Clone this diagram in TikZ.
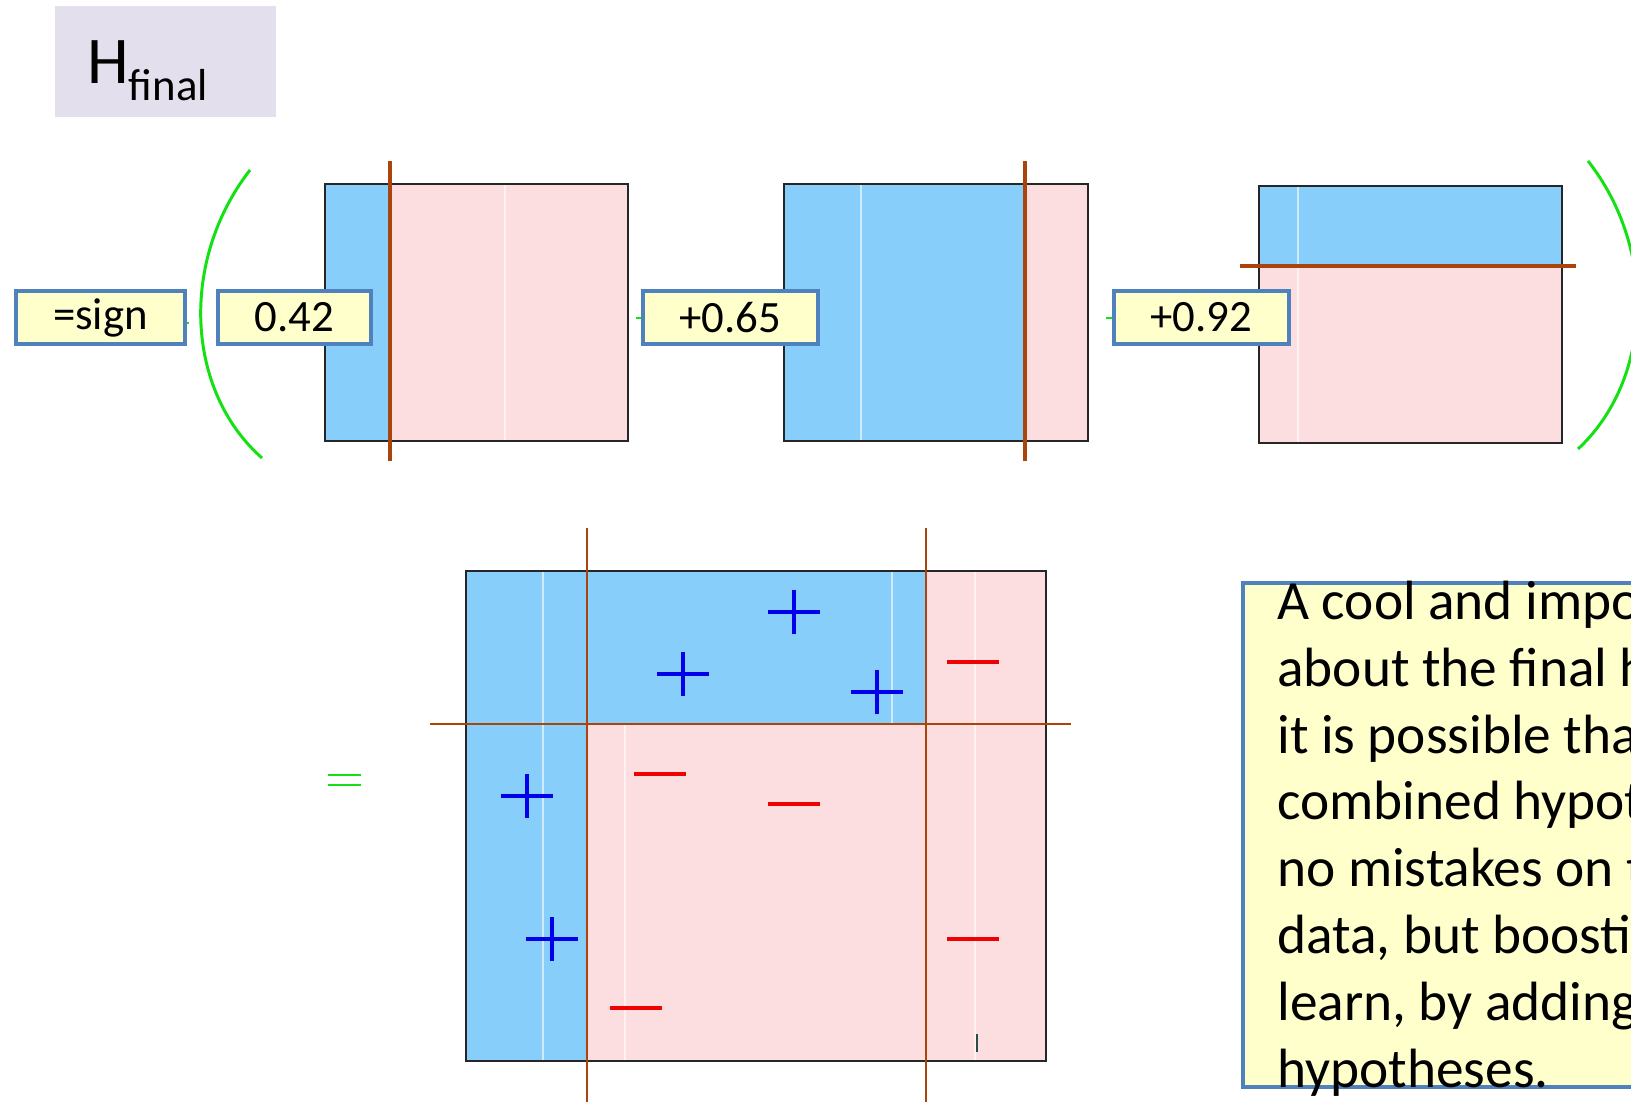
\documentclass[tikz,border=0pt]{standalone}
\usepackage{fontspec}
\setmainfont{Carlito}
\usetikzlibrary{positioning}

\definecolor{posblue}{RGB}{135,206,250}
\definecolor{negpink}{RGB}{253,222,224}
\definecolor{stumpbrown}{RGB}{168,68,12}
\definecolor{parengreen}{RGB}{20,225,20}
\definecolor{boxblue}{RGB}{79,129,189}
\definecolor{boxyellow}{RGB}{255,255,204}
\definecolor{titlelilac}{RGB}{228,223,236}
\definecolor{plusblue}{RGB}{0,0,235}
\definecolor{minusred}{RGB}{240,0,0}

\begin{document}
\begin{tikzpicture}[
    % GLOBAL CFG: one unit is one pixel of the slide
    x=0.02cm, y=-0.02cm,
    % Styles
    weight/.style={% For the alpha boxes
        rectangle,
        draw=boxblue,
        fill=boxyellow,
        line width=2.2pt,
        minimum height=1.06cm,
        inner sep=0pt,
        font=\fontsize{25.5}{30}\selectfont,
        },
    areaframe/.style={% Outline of a decision area
        draw=black!85,
        line width=1.1pt,
        },
    stump/.style={% Thick split of a weak learner
        draw=stumpbrown,
        line width=2.3pt,
        },
    thinstump/.style={% Thin split in the combined area
        draw=stumpbrown,
        line width=1.1pt,
        },
    gridline/.style={% Faint white gridlines
        draw=white,
        opacity=0.6,
        line width=0.8pt,
        },
    paren/.style={% Big brackets round the sum
        draw=parengreen,
        line width=1.7pt,
        },
    plusmark/.style={% + examples
        draw=plusblue,
        line width=2.3pt,
        },
    minusmark/.style={% - examples
        draw=minusred,
        line width=2.3pt,
        },
    ]

    \clip (0,0) rectangle (1631,1102);

    % Title
    \fill [titlelilac] (55,6) rectangle (276,117);
    \node [anchor=base west, inner sep=0pt, font=\fontsize{38}{40}\selectfont] (title) at (87,83)
        {H\raisebox{-10pt}{\fontsize{25.5}{30}\selectfont final}};

    % First weak learner: vertical split
    \fill [posblue] (325,184) rectangle (390,441);
    \fill [negpink] (390,184) rectangle (628,441);
    \draw [gridline] (505,184) -- (505,441);
    \draw [areaframe] (325,184) rectangle (628,441);
    \draw [stump] (390,161) -- (390,461);

    % Second weak learner: vertical split
    \fill [posblue] (784,184) rectangle (1025,441);
    \fill [negpink] (1025,184) rectangle (1088,441);
    \draw [gridline] (861,184) -- (861,441);
    \draw [areaframe] (784,184) rectangle (1088,441);
    \draw [stump] (1025,161) -- (1025,461);

    % Third weak learner: horizontal split
    \fill [posblue] (1259,186) rectangle (1562,266);
    \fill [negpink] (1259,266) rectangle (1562,443);
    \draw [gridline] (1298,186) -- (1298,443);
    \draw [areaframe] (1259,186) rectangle (1562,443);
    \draw [stump] (1240,266) -- (1576,266);

    % Brackets
    \draw [paren] (250,170) .. controls (180,260) and (185,390) .. (262,458);
    \draw [paren] (1588,161) .. controls (1658,250) and (1652,380) .. (1578,449);

    % bits of green poking out behind the boxes
    \draw [parengreen, line width=1pt] (181,323) -- (189,323);
    \draw [parengreen, line width=1pt] (636,318) -- (645,318);
    \draw [parengreen, line width=1pt] (1106,318) -- (1116,318);

    % Weights
    \node [weight, minimum width=3.38cm] (sign) at (100.5,317.5) {\raisebox{-2pt}{=sign}};
    \node [weight, minimum width=3.06cm] (alpha_one) at (294.5,317.5) {\raisebox{-2pt}{0.42}};
    \node [weight, minimum width=3.5cm] (alpha_two) at (730.5,317.5) {\raisebox{-2pt}{+0.65}};
    \node [weight, minimum width=3.5cm] (alpha_three) at (1201.5,317.5) {\raisebox{-2pt}{+0.92}};

    % Combined classifier
    \draw [parengreen, line width=1.2pt] (328,775) -- (361,775) (328,785) -- (361,785);

    \fill [negpink] (466,571) rectangle (1046,1061);
    \fill [posblue] (466,571) rectangle (587,1061);
    \fill [posblue] (587,571) rectangle (926,724);
    \draw [gridline] (543,571) -- (543,1061);
    \draw [gridline] (625,724) -- (625,1061);
    \draw [gridline] (892,571) -- (892,724);
    \draw [gridline] (975,571) -- (975,1061);
    \draw [areaframe] (466,571) rectangle (1046,1061);
    \draw [thinstump] (587,528) -- (587,1102);
    \draw [thinstump] (926,528) -- (926,1102);
    \draw [thinstump] (430,724) -- (1071,724);
    \draw [draw={rgb,255:red,40;green,75;blue,75}, line width=1.2pt] (977,1034) -- (977,1052);

    % Training points
    \foreach \px/\py in {794/612, 683/674, 877/692, 527/796, 552/939}
        \draw [plusmark] (\px-26,\py) -- (\px+26,\py) (\px,\py-22) -- (\px,\py+22);
    \foreach \px/\py in {973/662, 660/774, 794/804, 973/939, 636/1008}
        \draw [minusmark] (\px-26,\py) -- (\px+26,\py);

    % Comment box (base anchor sits on the last line)
    \draw [draw=boxblue, fill=boxyellow, line width=2.3pt] (1243,583) rectangle (1720,1087);
    \node [anchor=base west, inner sep=0pt, align=left,
           font=\fontsize{31.5}{38}\selectfont] (remark) at (1277,1087)
        {A cool and important observation\\
         about the final hypothesis is that\\
         it is possible that the\\
         combined hypothesis makes\\
         no mistakes on the training\\
         data, but boosting can still\\
         learn, by adding more\\
         hypotheses.};

\end{tikzpicture}
\end{document}
